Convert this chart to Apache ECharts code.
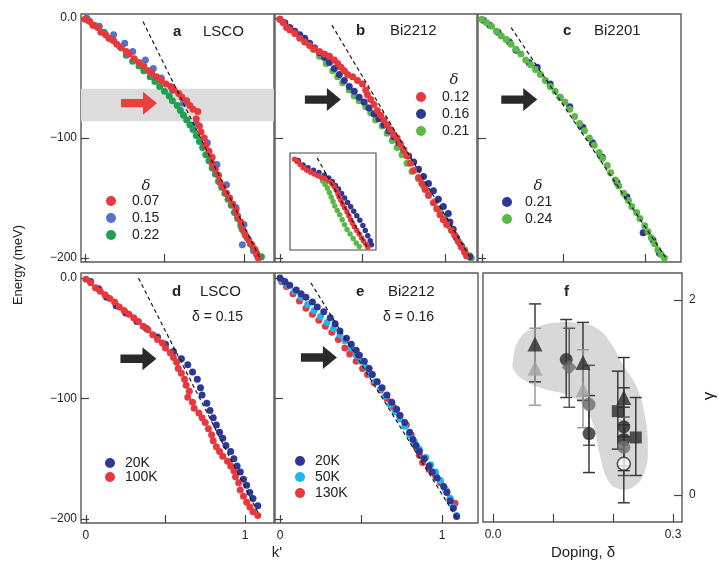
<!DOCTYPE html>
<html><head><meta charset="utf-8">
<script src="https://cdn.jsdelivr.net/npm/echarts@6/dist/echarts.min.js"></script>
<style>html,body{margin:0;padding:0;background:#fff}#c{width:719px;height:563px}</style>
</head><body><div id="c"></div>
<script>
// ---------- Panel a : LSCO, doping series (k', Energy meV) ----------
const a007 = [[0.00,-1],[0.03,-3],[0.05,-6],[0.08,-8],[0.10,-12],[0.13,-14],[0.15,-17],[0.18,-19],[0.20,-22],[0.23,-25],[0.26,-28],[0.28,-30],[0.31,-34],[0.34,-37],[0.37,-40],[0.40,-44],[0.42,-46],[0.45,-49],[0.48,-52],[0.51,-55],[0.54,-57],[0.56,-60],[0.59,-63],[0.61,-66],[0.64,-69],[0.66,-73],[0.68,-76],[0.71,-78],[0.70,-84],[0.72,-90],[0.73,-95],[0.75,-100],[0.76,-106],[0.78,-111],[0.80,-116],[0.80,-121],[0.82,-126],[0.84,-131],[0.85,-137],[0.87,-141],[0.89,-146],[0.91,-150],[0.93,-155],[0.95,-160],[0.96,-165],[0.98,-170],[0.99,-176],[1.01,-181],[1.03,-185],[1.05,-189],[1.07,-193],[1.08,-197],[1.09,-200]];
const a015 = [[0.01,0],[0.09,-7],[0.18,-14],[0.25,-21],[0.30,-28],[0.38,-35],[0.43,-42],[0.48,-50],[0.55,-60],[0.62,-71],[0.70,-88],[0.77,-104],[0.83,-122],[0.89,-139],[0.95,-158],[1.00,-172],[0.99,-189],[1.06,-194]];
const a022 = [[0.02,-2],[0.06,-6],[0.12,-12],[0.17,-18],[0.22,-24],[0.26,-31],[0.30,-36],[0.34,-40],[0.37,-44],[0.41,-49],[0.44,-53],[0.47,-57],[0.50,-61],[0.53,-65],[0.55,-69],[0.58,-73],[0.60,-77],[0.62,-81],[0.64,-85],[0.66,-89],[0.68,-93],[0.70,-98],[0.72,-103],[0.74,-108],[0.76,-114],[0.78,-119],[0.80,-125],[0.82,-130],[0.84,-136],[0.86,-141],[0.88,-146],[0.90,-151],[0.92,-156],[0.94,-162],[0.96,-167],[0.98,-173],[1.00,-178],[1.02,-183],[1.04,-188],[1.06,-192],[1.08,-196],[1.11,-199]];
const dashA = [[0.365,-3],[1.10,-200]];
const bandA = [-59,-86];
const arrowA = [0.34,-71];

// ---------- Panel b : Bi2212 ----------
const b012 = [[0.00,-1],[0.02,-4],[0.04,-8],[0.06,-10],[0.09,-13],[0.12,-17],[0.15,-20],[0.18,-23],[0.21,-26],[0.24,-28],[0.27,-30],[0.30,-32],[0.33,-35],[0.35,-38],[0.37,-41],[0.39,-44],[0.41,-47],[0.44,-49],[0.47,-52],[0.50,-55],[0.52,-60],[0.53,-64],[0.55,-68],[0.57,-72],[0.59,-77],[0.61,-81],[0.63,-85],[0.65,-89],[0.67,-93],[0.69,-97],[0.71,-100],[0.73,-105],[0.75,-110],[0.77,-115],[0.79,-121],[0.81,-127],[0.84,-133],[0.86,-138],[0.88,-143],[0.90,-148],[0.93,-154],[0.95,-159],[0.97,-164],[0.99,-168],[1.01,-172],[1.04,-177],[1.06,-181],[1.08,-186],[1.10,-191],[1.12,-195],[1.13,-198]];
const b016 = [[0.00,-1],[0.03,-4],[0.06,-8],[0.09,-11],[0.12,-14],[0.15,-17],[0.18,-21],[0.21,-25],[0.24,-29],[0.27,-33],[0.30,-37],[0.33,-42],[0.36,-47],[0.39,-52],[0.42,-57],[0.45,-61],[0.48,-66],[0.51,-70],[0.54,-75],[0.57,-80],[0.60,-84],[0.63,-89],[0.66,-94],[0.69,-99],[0.72,-104],[0.75,-110],[0.78,-115],[0.81,-120],[0.84,-126],[0.87,-132],[0.90,-138],[0.93,-144],[0.96,-151],[0.99,-157],[1.02,-163],[1.03,-170],[1.05,-176],[1.07,-183],[1.10,-190],[1.12,-195],[1.15,-199]];
const b021 = [[0.12,-15],[0.16,-20],[0.20,-26],[0.24,-32],[0.28,-38],[0.32,-44],[0.35,-49],[0.38,-54],[0.42,-60],[0.45,-65],[0.48,-69],[0.52,-74],[0.55,-79],[0.58,-85],[0.62,-90],[0.65,-96],[0.68,-102],[0.71,-108],[0.74,-114],[0.77,-121],[0.80,-128],[0.84,-134],[0.87,-140],[0.90,-146],[0.94,-153],[0.97,-160],[1.00,-167],[1.03,-174],[1.06,-181],[1.09,-188],[1.12,-193],[1.15,-198],[1.16,-200]];
const dashB = [[0.315,-6],[1.15,-199]];
const arrowB = [0.26,-68];
// inset of panel b
const insRed = [[-0.04,-3],[0.00,-8],[0.05,-15],[0.10,-22],[0.16,-28],[0.22,-32],[0.28,-36],[0.34,-40],[0.40,-44],[0.46,-47],[0.52,-52],[0.57,-58],[0.61,-65],[0.64,-72],[0.67,-80],[0.69,-88],[0.72,-96],[0.75,-104],[0.78,-112],[0.82,-121],[0.85,-130],[0.88,-139],[0.91,-147],[0.94,-155],[0.98,-163],[1.02,-171],[1.06,-180],[1.09,-187],[1.13,-194],[1.16,-200]];
const insBlue = [[0.02,-6],[0.10,-16],[0.18,-22],[0.27,-28],[0.36,-33],[0.45,-39],[0.52,-45],[0.58,-53],[0.63,-62],[0.68,-70],[0.73,-80],[0.78,-90],[0.83,-100],[0.88,-110],[0.93,-120],[0.98,-130],[1.03,-140],[1.08,-152],[1.12,-163],[1.16,-175],[1.20,-186],[1.22,-195]];
const insGreen = [[0.42,-52],[0.46,-60],[0.50,-68],[0.53,-78],[0.56,-88],[0.59,-98],[0.62,-108],[0.66,-118],[0.70,-128],[0.74,-139],[0.78,-150],[0.82,-161],[0.87,-171],[0.92,-181],[0.97,-191],[1.02,-199]];
const dashIns = [[0.33,0],[1.15,-200]];

// ---------- Panel c : Bi2201 ----------
const c021 = [[0.01,-2],[0.05,-6],[0.10,-12],[0.17,-20],[0.21,-27],[0.29,-37],[0.34,-41],[0.42,-55],[0.48,-66],[0.54,-74],[0.62,-91],[0.68,-104],[0.74,-116],[0.83,-137],[0.89,-149],[0.99,-179],[1.05,-185],[1.09,-196]];
const c024 = [[0.00,-1],[0.03,-4],[0.06,-7],[0.09,-11],[0.12,-15],[0.15,-18],[0.18,-22],[0.21,-26],[0.24,-30],[0.27,-35],[0.30,-39],[0.33,-43],[0.36,-47],[0.39,-52],[0.42,-57],[0.45,-61],[0.48,-66],[0.51,-70],[0.54,-76],[0.57,-82],[0.60,-88],[0.63,-94],[0.66,-100],[0.69,-106],[0.72,-112],[0.74,-117],[0.77,-123],[0.79,-129],[0.82,-135],[0.84,-140],[0.87,-146],[0.90,-152],[0.92,-157],[0.95,-162],[0.97,-167],[1.00,-173],[1.02,-178],[1.04,-183],[1.06,-188],[1.08,-193],[1.10,-197],[1.12,-200]];
const dashC = [[0.18,-8],[1.13,-200]];
const arrowC = [0.23,-68];

// ---------- Panel d : LSCO δ=0.15, temperatures ----------
const d20K = [[0.03,-3],[0.08,-9],[0.13,-16],[0.19,-23],[0.25,-29],[0.32,-36],[0.38,-42],[0.45,-49],[0.50,-55],[0.55,-61],[0.60,-67],[0.64,-72],[0.67,-78],[0.70,-84],[0.72,-91],[0.73,-97],[0.76,-104],[0.78,-110],[0.80,-116],[0.82,-122],[0.84,-128],[0.86,-133],[0.88,-139],[0.91,-144],[0.93,-150],[0.95,-156],[0.97,-161],[0.99,-167],[1.01,-172],[1.03,-178],[1.05,-183],[1.08,-189]];
const d100K = [[0.00,-1],[0.03,-4],[0.06,-8],[0.09,-11],[0.12,-14],[0.15,-17],[0.18,-20],[0.21,-24],[0.24,-27],[0.27,-30],[0.30,-33],[0.33,-36],[0.36,-40],[0.39,-43],[0.42,-47],[0.45,-51],[0.48,-54],[0.50,-58],[0.53,-62],[0.55,-66],[0.57,-70],[0.58,-75],[0.60,-79],[0.62,-84],[0.63,-89],[0.65,-94],[0.64,-99],[0.67,-103],[0.68,-108],[0.71,-112],[0.73,-116],[0.75,-120],[0.77,-125],[0.79,-130],[0.80,-135],[0.82,-140],[0.84,-144],[0.86,-148],[0.89,-152],[0.91,-156],[0.93,-160],[0.94,-165],[0.96,-170],[0.97,-176],[0.99,-181],[1.01,-186],[1.03,-190],[1.05,-194],[1.08,-197]];
const dashD = [[0.33,0],[1.09,-197]];
const arrowD = [0.33,-67];

// ---------- Panel e : Bi2212 δ=0.16, temperatures ----------
const e20K = [[0.00,0],[0.03,-3],[0.06,-6],[0.10,-10],[0.13,-13],[0.16,-16],[0.20,-20],[0.23,-24],[0.27,-28],[0.31,-33],[0.34,-38],[0.37,-44],[0.41,-50],[0.44,-55],[0.47,-60],[0.49,-64],[0.52,-69],[0.55,-75],[0.57,-80],[0.60,-86],[0.63,-91],[0.66,-97],[0.69,-103],[0.72,-109],[0.74,-114],[0.77,-120],[0.80,-128],[0.82,-134],[0.84,-139],[0.86,-144],[0.89,-150],[0.92,-156],[0.94,-161],[0.97,-166],[1.01,-173],[1.03,-178],[1.05,-185],[1.07,-191],[1.09,-198]];
const e50K = [[0.01,-2],[0.05,-6],[0.09,-11],[0.13,-16],[0.17,-22],[0.21,-27],[0.25,-32],[0.29,-37],[0.33,-42],[0.37,-47],[0.40,-52],[0.44,-58],[0.47,-64],[0.50,-69],[0.53,-74],[0.56,-80],[0.59,-86],[0.62,-92],[0.65,-98],[0.68,-105],[0.71,-111],[0.74,-117],[0.77,-123],[0.80,-130],[0.83,-136],[0.86,-142],[0.90,-149],[0.93,-155],[0.96,-161],[0.99,-168],[1.02,-175],[1.05,-183],[1.07,-190],[1.09,-197]];
const e130K = [[0.01,-3],[0.04,-7],[0.08,-13],[0.12,-19],[0.16,-25],[0.20,-30],[0.24,-35],[0.28,-40],[0.32,-45],[0.36,-51],[0.40,-58],[0.43,-63],[0.47,-69],[0.51,-75],[0.54,-80],[0.58,-87],[0.62,-93],[0.66,-100],[0.70,-107],[0.74,-114],[0.78,-122],[0.81,-130],[0.84,-140],[0.86,-147],[0.88,-153],[0.92,-159],[0.96,-164],[0.99,-170],[1.03,-177],[1.05,-183],[1.08,-187]];
const dashE = [[0.19,-4],[1.09,-199]];
const arrowE = [0.24,-66];

// ---------- Panel f : exponent γ vs doping ----------
const fDoping = [0.07,0.07,0.122,0.127,0.15,0.15,0.16,0.16,0.208,0.218,0.218,0.218,0.218,0.218,0.238];
const fGamma  = [1.55,1.30,1.39,1.31,1.36,1.08,0.93,0.63,0.86,1.00,0.70,0.57,0.49,0.32,0.59];
const fLow    = [1.16,0.92,1.00,0.90,0.97,0.69,0.51,0.23,0.47,0.60,0.30,0.25,0.20,-0.08,0.20];
const fHigh   = [1.96,1.71,1.80,1.71,1.77,1.49,1.33,1.02,1.27,1.41,1.10,0.90,0.80,0.72,1.00];
const fMarker = ['triangle','triangle','circle','diamond','triangle','triangle','circle','circle','rect','triangle','circle','circle','circle','open','rect'];
const fTone   = ['dark','light','dark','mid','dark','light','mid','dark','dark','dark','dark','dark','mid','dark','dark'];
const blobDoping = [0.033,0.045,0.073,0.107,0.145,0.173,0.195,0.217,0.240,0.253,0.258,0.253,0.233,0.207,0.190,0.178,0.167,0.150,0.123,0.090,0.057,0.037];
const blobGamma  = [1.36,1.61,1.72,1.77,1.76,1.71,1.57,1.33,1.10,0.82,0.51,0.24,0.08,0.07,0.17,0.41,0.72,0.92,1.03,1.08,1.16,1.26];

// ================= styling / chart construction =================
const FONT = 'Liberation Sans, Arial, Helvetica, sans-serif';
const TXT = '#222';
const COL = {red:'#e8383d', blueL:'#5670cc', greenA:'#22a052', navy:'#2d3895', green:'#5cb848', cyan:'#1db7ec'};
const TONE = {dark:'#2b2b2b', mid:'#6f6f6f', light:'#a3a3a3'};
const BAR = {dark:'#3a3a3a', mid:'#5a5a5a', light:'#9a9a9a'};

const frame = {show:true, borderColor:'#5a5a5a', borderWidth:1.4, backgroundColor:'transparent'};
const grids = [
  Object.assign({left:81, top:14, width:193, height:248}, frame),
  Object.assign({left:275, top:14, width:202, height:248}, frame),
  Object.assign({left:478, top:14, width:203, height:248}, frame),
  Object.assign({left:81, top:273, width:193, height:250}, frame),
  Object.assign({left:275, top:273, width:203, height:250}, frame),
  Object.assign({left:483, top:273, width:199, height:249}, frame),
  {show:true, left:290, top:153, width:86, height:97, borderColor:'#444', borderWidth:1.1, backgroundColor:'#fff', z:1}
];
const tickStyle = {color:'#444', width:1.2};
const noLine = {show:false, onZero:false};
function kAxis(gi, min, max, labels, len) {
  return {gridIndex:gi, type:'value', position:'bottom', min, max,
    axisLine:noLine, splitLine:{show:false},
    axisTick:{show:true, inside:true, length:len||8, customValues:[0,0.5,1], lineStyle:tickStyle},
    axisLabel:{show:labels, customValues:[0,1], formatter:v=>String(v), margin:7, fontSize:12, color:TXT, fontFamily:FONT}};
}
function eAxis(gi, min, max, labels, len) {
  return {gridIndex:gi, type:'value', position:'left', min, max,
    axisLine:noLine, splitLine:{show:false},
    axisTick:{show:true, inside:true, length:len||8, customValues:[0,-100,-200], lineStyle:tickStyle},
    axisLabel:{show:labels, customValues:[0,-100,-200], formatter:v=>v===0?'0.0':'\u2212'+Math.abs(v), margin:4, fontSize:12, color:TXT, fontFamily:FONT}};
}
const xAxes = [
  kAxis(0,-0.025,1.189,false), kAxis(1,-0.03,1.194,false), kAxis(2,-0.023,1.222,false),
  kAxis(3,-0.031,1.182,true), kAxis(4,-0.031,1.222,true),
  {gridIndex:5, type:'value', position:'bottom', min:-0.0167, max:0.315, axisLine:noLine, splitLine:{show:false},
   axisTick:{inside:true, length:8, customValues:[0,0.1,0.2,0.3], lineStyle:tickStyle},
   axisLabel:{customValues:[0,0.3], formatter:v=>v.toFixed(1), margin:7, fontSize:12, color:TXT, fontFamily:FONT}},
  kAxis(6,-0.115,1.295,false,6)
];
const yAxes = [
  eAxis(0,-203.3,3.3,true), eAxis(1,-203.3,3.3,false), eAxis(2,-203.3,3.3,false),
  eAxis(3,-203.3,4.15,true), eAxis(4,-203.3,4.15,false),
  {gridIndex:5, type:'value', position:'right', min:-0.277, max:2.277, axisLine:noLine, splitLine:{show:false},
   axisTick:{inside:true, length:8, customValues:[0,2], lineStyle:tickStyle},
   axisLabel:{customValues:[0,2], formatter:v=>String(v), margin:7, fontSize:12, color:TXT, fontFamily:FONT}},
  eAxis(6,-207,11,false,6)
];

function sc(name, data, color, gi, size) {
  return {type:'scatter', name, data, xAxisIndex:gi, yAxisIndex:gi, symbol:'circle', symbolSize:size||7,
    itemStyle:{color, opacity:1}, z:2, silent:true, animation:false};
}
const ARROW = 'path://M0,7 L22,7 L22,0 L36,11 L22,22 L22,15 L0,15 Z';
function dash(data, gi, arrow, arrowColor) {
  const s = {type:'line', data, xAxisIndex:gi, yAxisIndex:gi, showSymbol:false, symbol:'none', silent:true, animation:false,
    lineStyle:{color:'#1a1a1a', width:1.2, type:[4,3]}, z:3};
  if (arrow) s.markPoint = {silent:true, animation:false, symbol:ARROW, symbolSize:[36,23], label:{show:false},
    itemStyle:{color:arrowColor||'#2a2a2a'}, data:[{coord:arrow}]};
  return s;
}

const series = [
  {type:'custom', xAxisIndex:0, yAxisIndex:0, z:1, silent:true, animation:false, data:[[0, bandA[0], bandA[1]]],
   renderItem:(p, api) => {
     const cs = p.coordSys; const y1 = api.coord([0, api.value(1)])[1], y2 = api.coord([0, api.value(2)])[1];
     return {type:'rect', shape:{x:cs.x, y:Math.min(y1,y2), width:cs.width, height:Math.abs(y2-y1)}, style:{fill:'#dcdcdc'}};
   }},
  sc('a0.15', a015, COL.blueL, 0), sc('a0.22', a022, COL.greenA, 0), sc('a0.07', a007, COL.red, 0),
  dash(dashA, 0, arrowA, '#e8413c'),
  sc('b0.21', b021, COL.green, 1), sc('b0.16', b016, COL.navy, 1), sc('b0.12', b012, COL.red, 1),
  dash(dashB, 1, arrowB),
  sc('i0.21', insGreen, COL.green, 6, 5.5), sc('i0.16', insBlue, COL.navy, 6, 5.5), sc('i0.12', insRed, COL.red, 6, 5.5),
  dash(dashIns, 6),
  sc('c0.21', c021, COL.navy, 2), sc('c0.24', c024, COL.green, 2),
  dash(dashC, 2, arrowC),
  sc('d20K', d20K, COL.navy, 3), sc('d100K', d100K, COL.red, 3),
  dash(dashD, 3, arrowD),
  sc('e130K', e130K, COL.red, 4), sc('e50K', e50K, COL.cyan, 4), sc('e20K', e20K, COL.navy, 4),
  dash(dashE, 4, arrowE),
  {type:'custom', xAxisIndex:5, yAxisIndex:5, z:1, silent:true, animation:false, data:[[0.15,1]],
   renderItem:(p, api) => ({type:'polygon', shape:{points: blobDoping.map((d,i)=>api.coord([d, blobGamma[i]])), smooth:0.45},
     style:{fill:'#d8d8d8'}})},
  {type:'custom', xAxisIndex:5, yAxisIndex:5, z:2, silent:true, animation:false,
   data: fDoping.map((d,i)=>[d, fLow[i], fHigh[i], i]),
   renderItem:(p, api) => {
     const i = api.value(3); const hi = api.coord([api.value(0), api.value(2)]); const lo = api.coord([api.value(0), api.value(1)]);
     const st = {stroke:BAR[fTone[i]], lineWidth:1.5}; const w = 6;
     return {type:'group', children:[
       {type:'line', shape:{x1:hi[0], y1:hi[1], x2:lo[0], y2:lo[1]}, style:st},
       {type:'line', shape:{x1:hi[0]-w, y1:hi[1], x2:hi[0]+w, y2:hi[1]}, style:st},
       {type:'line', shape:{x1:lo[0]-w, y1:lo[1], x2:lo[0]+w, y2:lo[1]}, style:st}]};
   }},
  {type:'scatter', xAxisIndex:5, yAxisIndex:5, z:3, silent:true, animation:false,
   data: fDoping.map((d,i)=>{
     const m = fMarker[i];
     return {value:[d, fGamma[i]], symbol: m==='open'?'circle':m,
       symbolSize: m==='rect'?12: m==='diamond'?15: m==='triangle'?15:13,
       itemStyle: m==='open' ? {color:'#ffffff', borderColor:TONE.dark, borderWidth:1.6} : {color:TONE[fTone[i]]}};
   })}
];

const legBase = {orient:'vertical', icon:'circle', itemWidth:10, itemHeight:10, padding:0, selectedMode:false,
  formatter:n=>n.slice(1), textStyle:{fontSize:14, color:TXT, fontFamily:FONT, lineHeight:14}};
function leg(data, left, top, gap, pad) {
  return Object.assign({}, legBase, {data, left, top, itemGap:gap, textStyle:Object.assign({}, legBase.textStyle, {padding:[0,0,0,pad]})});
}
const legends = [
  leg(['a0.07','a0.15','a0.22'], 106, 194, 3, 11),
  leg(['b0.12','b0.16','b0.21'], 416, 90, 3, 11),
  leg(['c0.21','c0.24'], 502, 195, 3, 8),
  leg(['d20K','d100K'], 105, 456, 0, 5),
  leg(['e20K','e50K','e130K'], 295, 454, 2, 5)
];

function txt(x, y, text, o) {
  o = o || {};
  return {type:'text', x, y, rotation:o.rot||0, z:10, silent:true,
    style:{text, fill:TXT, fontSize:o.size||15, fontWeight:o.bold?'bold':'normal', fontStyle:o.italic?'italic':'normal',
      fontFamily:o.serif?'DejaVu Serif, Liberation Serif, serif':FONT, align:o.align||'left', verticalAlign:'middle'}};
}
const graphics = [
  txt(173,32,'a',{bold:true}), txt(203,32,'LSCO'),
  txt(356,31,'b',{bold:true}), txt(390,31,'Bi2212'),
  txt(563,31,'c',{bold:true}), txt(594,31,'Bi2201'),
  txt(172,292,'d',{bold:true}), txt(200,292,'LSCO'), txt(192,317,'\u03b4 = 0.15',{size:14}),
  txt(356,292,'e',{bold:true}), txt(388,292,'Bi2212'), txt(383,317,'\u03b4 = 0.16',{size:14}),
  txt(564,292,'f',{bold:true}),
  txt(146,186,'\u03b4',{italic:true, serif:true, align:'center'}),
  txt(454,80,'\u03b4',{italic:true, serif:true, align:'center'}),
  txt(538,186,'\u03b4',{italic:true, serif:true, align:'center'}),
  txt(18,265,'Energy (meV)',{size:13, align:'center', rot:Math.PI/2}),
  txt(277,553,"k'",{size:15, align:'center'}),
  txt(583,553,'Doping, \u03b4',{size:15, align:'center'}),
  txt(709,396,'\u03b3',{size:17, align:'center', rot:Math.PI/2})
];

const chart = echarts.init(document.getElementById('c'), null, {renderer:'canvas'});
chart.setOption({animation:false, backgroundColor:'#fff', grid:grids, xAxis:xAxes, yAxis:yAxes,
  legend:legends, series, graphic:graphics});
</script></body></html>
